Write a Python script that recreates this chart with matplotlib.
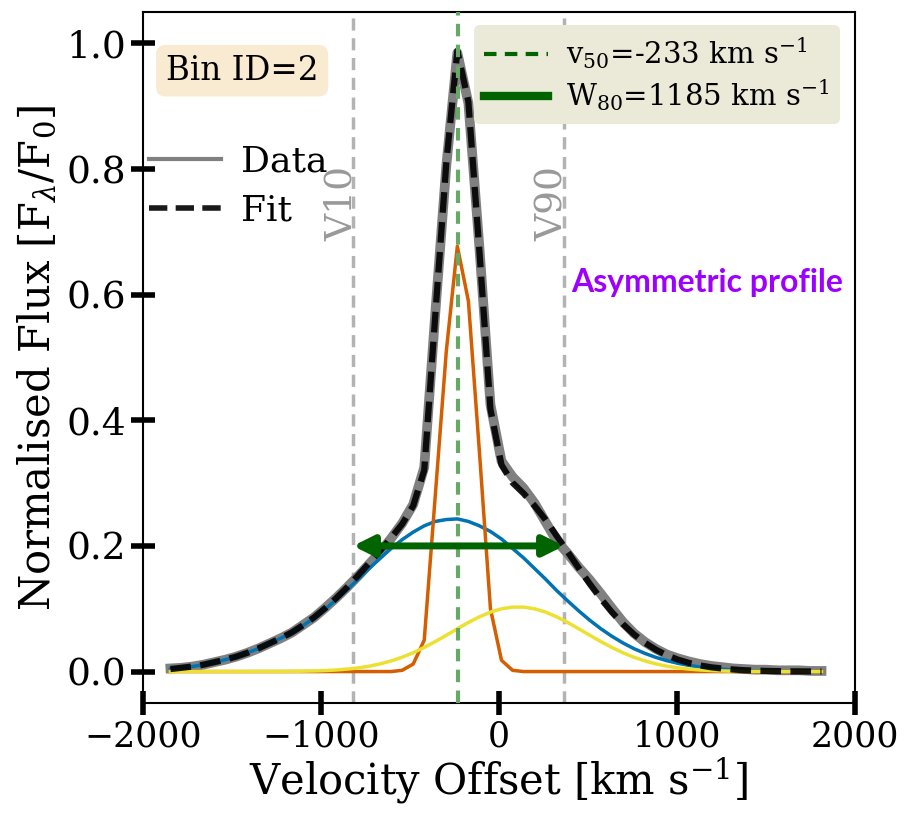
import numpy as np
import matplotlib
matplotlib.use("Agg")
import matplotlib.pyplot as plt
from matplotlib.lines import Line2D

plt.rcParams['font.family'] = 'DejaVu Serif'
plt.rcParams['mathtext.fontset'] = 'dejavuserif'

# velocity grid of the spectrum (km/s)
velocity = np.arange(-1846, 1813, 62)

# observed line profile (normalised)
data_flux = [0.005, 0.006, 0.008, 0.011, 0.015, 0.019, 0.024, 0.030, 0.037, 0.045,
             0.053, 0.062, 0.074, 0.086, 0.101, 0.117, 0.134, 0.152, 0.171, 0.190,
             0.212, 0.236, 0.266, 0.325, 0.570, 0.805, 0.985, 0.905, 0.675, 0.425,
             0.335, 0.310, 0.292, 0.268, 0.238, 0.208, 0.188, 0.166, 0.146, 0.124,
             0.101, 0.079, 0.061, 0.047, 0.036, 0.027, 0.021, 0.016, 0.012, 0.009,
             0.007, 0.005, 0.004, 0.003, 0.003, 0.002, 0.002, 0.002, 0.001, 0.001]

# gaussian components of the fit
comp_broad = [0.004, 0.006, 0.008, 0.011, 0.015, 0.019, 0.024, 0.030, 0.037, 0.045,
              0.053, 0.062, 0.073, 0.085, 0.099, 0.114, 0.130, 0.147, 0.164, 0.180,
              0.196, 0.210, 0.222, 0.232, 0.239, 0.242, 0.243, 0.239, 0.232, 0.223,
              0.211, 0.196, 0.181, 0.164, 0.147, 0.129, 0.1125, 0.0966, 0.0817, 0.0682,
              0.0562, 0.0456, 0.0365, 0.0289, 0.0225, 0.0173, 0.0131, 0.0098, 0.0072, 0.0052,
              0.0038, 0.0027, 0.0018, 0.0013, 0.0009, 0.0006, 0.0004, 0.0003, 0.0002, 0.0001]
comp_narrow = [0.0, 0.0, 0.0, 0.0, 0.0, 0.0, 0.0, 0.0, 0.0, 0.0,
               0.0, 0.0, 0.0, 0.0, 0.0, 0.0, 0.0, 0.0, 0.0, 0.0,
               0.0, 0.002, 0.012, 0.05, 0.28, 0.51, 0.677, 0.59, 0.35, 0.10,
               0.018, 0.002, 0.0, 0.0, 0.0, 0.0, 0.0, 0.0, 0.0, 0.0,
               0.0, 0.0, 0.0, 0.0, 0.0, 0.0, 0.0, 0.0, 0.0, 0.0,
               0.0, 0.0, 0.0, 0.0, 0.0, 0.0, 0.0, 0.0, 0.0, 0.0]
comp_red = [0.0, 0.0, 0.0, 0.0, 0.0, 0.0, 0.0, 0.0, 0.0001, 0.0001,
            0.0002, 0.0003, 0.0006, 0.0010, 0.0016, 0.0025, 0.0039, 0.0058, 0.0085, 0.0122,
            0.0169, 0.0228, 0.0300, 0.0384, 0.0478, 0.0578, 0.0681, 0.0781, 0.0871, 0.0946,
            0.0999, 0.1026, 0.1026, 0.0999, 0.0946, 0.0871, 0.0781, 0.0681, 0.0578, 0.0478,
            0.0384, 0.0300, 0.0228, 0.0169, 0.0122, 0.0085, 0.0058, 0.0039, 0.0025, 0.0016,
            0.0010, 0.0006, 0.0003, 0.0002, 0.0001, 0.0001, 0.0, 0.0, 0.0, 0.0]

# non-parametric measurements
v10 = -820
v50 = -233
v90 = 365
w80 = v90 - v10
bin_id = 2

fit_flux = np.array(comp_broad) + np.array(comp_narrow) + np.array(comp_red)

fig = plt.figure(figsize=(9.08, 8.14), dpi=100)
ax = fig.add_axes([0.1575, 0.1364, 0.7841, 0.8489])

ax.plot(velocity, data_flux, color='grey', lw=7, zorder=2)
ax.plot(velocity, comp_broad, color='#0173b2', lw=2.5, zorder=3)
ax.plot(velocity, comp_narrow, color='#d55e00', lw=2.5, zorder=3)
ax.plot(velocity, comp_red, color='#ece133', lw=2.5, zorder=3)
ax.plot(velocity, fit_flux, color='k', lw=4.5, ls=(0, (3.3, 1.5)), alpha=0.9,
        zorder=4)

ax.axvline(v10, color='#b3b3b3', lw=2.5, ls=(0, (3.5, 2.2)), zorder=1)
ax.axvline(v90, color='#b3b3b3', lw=2.5, ls=(0, (3.5, 2.2)), zorder=1)
ax.axvline(v50, color='#66a866', lw=3, ls=(0, (3, 2)), zorder=5)
ax.annotate('', xy=(v10, 0.2), xytext=(v90, 0.2),
            arrowprops=dict(arrowstyle='<|-|>', color='darkgreen', lw=5,
                            mutation_scale=30, shrinkA=0, shrinkB=0), zorder=6)

ax.text(-885, 0.745, 'V10', rotation=90, color='#999999', fontsize=27,
        ha='center', va='center')
ax.text(300, 0.745, 'V90', rotation=90, color='#999999', fontsize=27,
        ha='center', va='center')
ax.text(1169, 0.62, 'Asymmetric profile', color='#9d00ff', fontsize=23,
        fontfamily='Lato', fontweight='bold', ha='center', va='center')

ax.text(0.032, 0.915, f'Bin ID={bin_id}', transform=ax.transAxes, fontsize=23.5,
        va='center', ha='left',
        bbox=dict(boxstyle='round,pad=0.3', facecolor='wheat', alpha=0.6,
                  edgecolor='none'))

handles1 = [Line2D([], [], color='grey', lw=3),
            Line2D([], [], color='k', lw=4, ls=(0, (3.3, 1.5)), alpha=0.9)]
leg1 = ax.legend(handles1, ['Data', 'Fit'], loc='upper left',
                 bbox_to_anchor=(-0.037, 0.855), frameon=False,
                 fontsize=26, handlelength=2.0, handletextpad=0.55,
                 labelspacing=0.42)
ax.add_artist(leg1)

handles2 = [Line2D([], [], color='darkgreen', lw=3, ls=(0, (3, 2))),
            Line2D([], [], color='darkgreen', lw=6)]
labels2 = [r'v$_{50}$=' + f'{v50}' + r' km s$^{-1}$',
           r'W$_{80}$=' + f'{w80}' + r' km s$^{-1}$']
ax.legend(handles2, labels2, loc='upper right', bbox_to_anchor=(0.999, 1.002),
          fontsize=21, handlelength=2.2, handletextpad=0.6,
          labelspacing=0.25, fancybox=True, framealpha=1,
          facecolor='#ebe9d7', edgecolor='none', borderpad=0.35)

ax.set_xlim(-2000, 2000)
ax.set_ylim(-0.05, 1.05)
ax.set_xticks([-2000, -1000, 0, 1000, 2000])
ax.set_yticks([0.0, 0.2, 0.4, 0.6, 0.8, 1.0])
ax.tick_params(direction='inout', length=17, width=4, top=False, right=False)
ax.tick_params(axis='x', labelsize=25)
ax.tick_params(axis='y', labelsize=27)
for s in ax.spines.values():
    s.set_linewidth(1.5)

ax.set_xlabel(r'Velocity Offset [km s$^{-1}$]', fontsize=30, labelpad=1)
ax.set_ylabel(r'Normalised Flux [F$_\lambda$/F$_0$]', fontsize=30, labelpad=6)

fig.savefig('out.png', dpi=100)
